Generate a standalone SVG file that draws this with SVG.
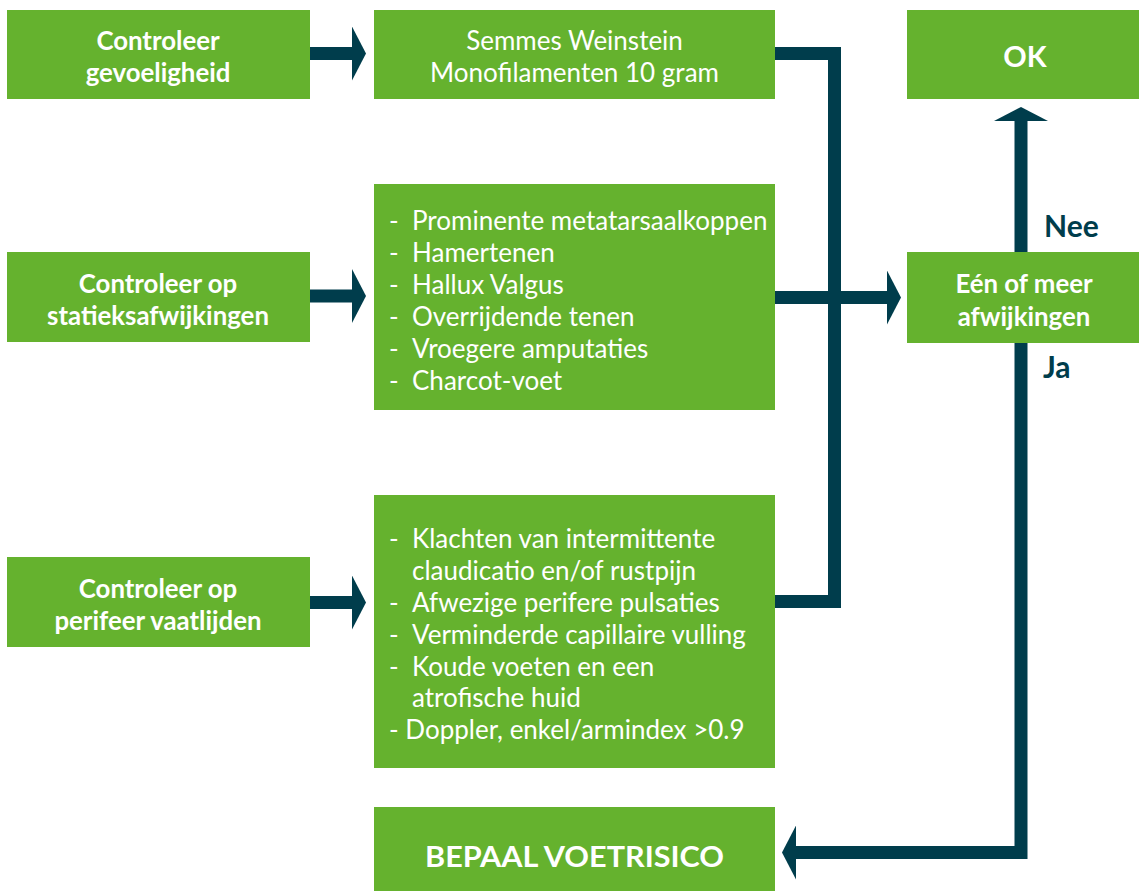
<svg xmlns="http://www.w3.org/2000/svg" width="1139" height="891" viewBox="0 0 1139 891">
<style>
.box{fill:#65B22E}
.b{font-family:Lato,"Open Sans",sans-serif;font-weight:700;font-size:25.8px;fill:#fff;text-anchor:middle}
.r{font-family:Lato,"Open Sans",sans-serif;font-weight:400;font-size:26px;fill:#fff}
.rc{text-anchor:middle}
.lbl{font-family:Lato,"Open Sans",sans-serif;font-weight:700;font-size:30px;fill:#003D4C}
.conn{fill:none;stroke:#003D4C;stroke-width:13;stroke-linejoin:miter;stroke-linecap:butt}
</style>
<defs>
<marker id="ah" viewBox="0 0 14 54" markerWidth="14" markerHeight="54" refX="0" refY="27" markerUnits="userSpaceOnUse" orient="auto">
<path d="M0,0 L14,27 L0,54 Z" fill="#003D4C"/>
</marker>
</defs>
<rect width="1139" height="891" fill="#fff"/>

<g id="connectors">
<path class="conn" d="M310,53.5 H352" marker-end="url(#ah)"/>
<path class="conn" d="M310,296 H352" marker-end="url(#ah)"/>
<path class="conn" d="M310,602.5 H352" marker-end="url(#ah)"/>
<path class="conn" d="M775,53.5 H834.5 V601.5 H775"/>
<path class="conn" d="M775,297.5 H887" marker-end="url(#ah)"/>
<path class="conn" d="M1021,252 V121" marker-end="url(#ah)"/>
<path class="conn" d="M1021,343 V852.5 H796" marker-end="url(#ah)"/>
</g>

<g id="n-gevoeligheid">
<rect class="box" x="7" y="10" width="303" height="89"/>
<text class="b" x="158" y="50">Controleer</text>
<text class="b" x="158" y="81.5">gevoeligheid</text>
</g>

<g id="n-semmes">
<rect class="box" x="374" y="10" width="401" height="89"/>
<text class="r rc" x="574.5" y="50">Semmes Weinstein</text>
<text class="r rc" x="574.5" y="82">Monofilamenten 10 gram</text>
</g>

<g id="n-ok">
<rect class="box" x="907" y="10" width="232" height="89"/>
<text class="b" x="1025" y="67" style="font-size:29px">OK</text>
</g>

<g id="n-statiek">
<rect class="box" x="7" y="252" width="303" height="90"/>
<text class="b" x="158" y="293">Controleer op</text>
<text class="b" x="158" y="325">statieksafwijkingen</text>
</g>

<g id="n-statiek-list">
<rect class="box" x="374" y="184" width="401" height="226"/>
<g class="r">
<text x="389" y="230">-</text><text x="412" y="230">Prominente metatarsaalkoppen</text>
<text x="389" y="262">-</text><text x="412" y="262">Hamertenen</text>
<text x="389" y="294">-</text><text x="412" y="294">Hallux Valgus</text>
<text x="389" y="326">-</text><text x="412" y="326">Overrijdende tenen</text>
<text x="389" y="358">-</text><text x="412" y="358">Vroegere amputaties</text>
<text x="389" y="390">-</text><text x="412" y="390">Charcot-voet</text>
</g>
</g>

<g id="n-afwijkingen">
<rect class="box" x="907" y="252" width="232" height="91"/>
<text class="b" x="1024" y="293">Eén of meer</text>
<text class="b" x="1024" y="325.5">afwijkingen</text>
</g>

<g id="n-vaat">
<rect class="box" x="7" y="557" width="303" height="90"/>
<text class="b" x="158" y="598">Controleer op</text>
<text class="b" x="158" y="630">perifeer vaatlijden</text>
</g>

<g id="n-vaat-list">
<rect class="box" x="374" y="495" width="401" height="273"/>
<g class="r">
<text x="389" y="548">-</text><text x="412" y="548">Klachten van intermittente</text>
<text x="412" y="580">claudicatio en/of rustpijn</text>
<text x="389" y="612">-</text><text x="412" y="612">Afwezige perifere pulsaties</text>
<text x="389" y="644">-</text><text x="412" y="644">Verminderde capillaire vulling</text>
<text x="389" y="676">-</text><text x="412" y="676">Koude voeten en een</text>
<text x="412" y="707">atrofische huid</text>
<text x="389" y="739">- Doppler, enkel/armindex &gt;0.9</text>
</g>
</g>

<g id="n-voetrisico">
<rect class="box" x="374" y="807" width="401" height="84"/>
<text class="b" x="574.5" y="867" style="font-size:29px" textLength="299" lengthAdjust="spacingAndGlyphs">BEPAAL VOETRISICO</text>
</g>

<g id="labels">
<text class="lbl" x="1044" y="237">Nee</text>
<text class="lbl" x="1043" y="378">Ja</text>
</g>
</svg>
